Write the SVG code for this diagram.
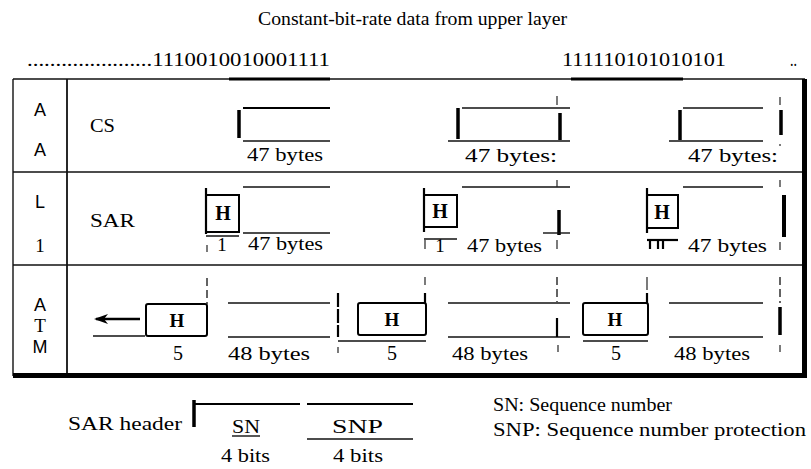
<svg xmlns="http://www.w3.org/2000/svg" width="811" height="469" viewBox="0 0 811 469">
<style>
.t{font-family:"Liberation Serif","Times New Roman",serif;font-size:18px;fill:#000}
.s{font-family:"Liberation Sans",Arial,sans-serif;font-size:18px;fill:#000}
.hb{font-family:"Liberation Serif","Times New Roman",serif;font-size:19px;font-weight:bold;fill:#000}
.ln{stroke:#111;stroke-width:1.4;fill:none}
.md{stroke:#000;stroke-width:2.2;fill:none}
.tk{stroke:#000;stroke-width:3.5;fill:none}
.tc{stroke:#222;stroke-width:1.2;fill:none}
.ds{stroke:#222;stroke-width:1.4;fill:none;stroke-dasharray:8 4}
.box{fill:#fff;stroke:#000;stroke-width:2}
</style>
<defs>
<marker id="ah" markerWidth="14" markerHeight="10" refX="12" refY="5" orient="auto" markerUnits="userSpaceOnUse">
<path d="M0,0 L14,5 L0,10 L4,5 Z" fill="#000"/>
</marker>
</defs>
<rect width="811" height="469" fill="#fff"/>

<g id="header-text">
<text class="t" x="258" y="25" textLength="309" lengthAdjust="spacingAndGlyphs">Constant-bit-rate data from upper layer</text>
<text class="t" x="27" y="66" textLength="303" lengthAdjust="spacingAndGlyphs">......................1110010010001111</text>
<text class="t" x="562" y="66" textLength="164" lengthAdjust="spacingAndGlyphs">111110101010101</text>
<text class="t" x="790" y="66" textLength="7" lengthAdjust="spacingAndGlyphs">..</text>
</g>

<g id="frame">
<line class="ln" x1="13" y1="79" x2="805" y2="79"/>
<line x1="229" y1="79" x2="330" y2="79" stroke="#000" stroke-width="3"/>
<line x1="571" y1="79" x2="683" y2="79" stroke="#000" stroke-width="3"/>
<line class="ln" x1="13" y1="79" x2="13" y2="376"/>
<line x1="67" y1="79" x2="67" y2="376" stroke="#111" stroke-width="1.8"/>
<line class="ln" x1="13" y1="172" x2="803" y2="172"/>
<line class="ln" x1="13" y1="265" x2="803" y2="265"/>
<rect x="802" y="79" width="5" height="299" fill="#000"/>
<rect x="13" y="373" width="794" height="5" fill="#000"/>
</g>

<g id="layer-labels">
<text class="s" x="40" y="116" text-anchor="middle">A</text>
<text class="s" x="40" y="156" text-anchor="middle">A</text>
<text class="s" x="40" y="208" text-anchor="middle">L</text>
<text class="t" x="40" y="252" text-anchor="middle" style="font-size:19px">1</text>
<text class="s" x="40" y="311" text-anchor="middle">A</text>
<text class="t" x="40" y="332" text-anchor="middle" style="font-size:19px">T</text>
<text class="s" x="40" y="353" text-anchor="middle">M</text>
</g>

<g id="cs-row">
<text class="t" x="90" y="132" textLength="25" lengthAdjust="spacingAndGlyphs">CS</text>
<g id="cs-1">
<line class="tk" x1="239" y1="110" x2="239" y2="138"/>
<line class="md" x1="243" y1="108" x2="330" y2="108"/>
<line class="ln" x1="243" y1="141" x2="330" y2="141"/>
<text class="t" x="247" y="161" textLength="76" lengthAdjust="spacingAndGlyphs">47 bytes</text>
</g>
<g id="cs-2">
<line class="tc" x1="557" y1="96" x2="557" y2="105"/>
<line class="ln" x1="462" y1="108" x2="570" y2="108"/>
<line class="tk" x1="458" y1="108" x2="458" y2="139"/>
<line class="ln" x1="448" y1="141" x2="570" y2="141"/>
<line class="tk" x1="560" y1="113" x2="560" y2="140"/>
<text class="t" x="465" y="162" textLength="92" lengthAdjust="spacingAndGlyphs">47 bytes:</text>
</g>
<g id="cs-3">
<line class="ln" x1="683" y1="108" x2="763" y2="108"/>
<line class="tk" x1="680" y1="110" x2="680" y2="140"/>
<line class="ln" x1="669" y1="141" x2="763" y2="141"/>
<line class="tc" x1="780" y1="97" x2="780" y2="105"/>
<line class="tk" x1="781" y1="110" x2="781" y2="135"/>
<line class="tc" x1="780" y1="144" x2="780" y2="146"/>
<text class="t" x="688" y="162" textLength="90" lengthAdjust="spacingAndGlyphs">47 bytes:</text>
</g>
</g>

<g id="sar-row">
<text class="t" x="90" y="227" textLength="45" lengthAdjust="spacingAndGlyphs">SAR</text>
<g id="sar-1">
<rect class="box" x="206" y="195" width="33" height="37"/>
<line class="md" x1="206" y1="188" x2="206" y2="234"/>
<text class="hb" x="223" y="220" text-anchor="middle" style="font-size:20px">H</text>
<line class="ln" x1="243" y1="187" x2="330" y2="187"/>
<line class="ln" x1="243" y1="233" x2="330" y2="233"/>
<line class="ln" x1="206" y1="236" x2="239" y2="236"/>
<line class="tc" x1="207" y1="245" x2="207" y2="252"/>
<text class="t" x="222" y="251" text-anchor="middle" style="font-size:19px">1</text>
<text class="t" x="248" y="250" textLength="75" lengthAdjust="spacingAndGlyphs">47 bytes</text>
</g>
<g id="sar-2">
<rect class="box" x="424" y="195" width="33" height="32"/>
<line class="md" x1="424" y1="188" x2="424" y2="232"/>
<text class="hb" x="440" y="218" text-anchor="middle" style="font-size:20px">H</text>
<line class="ln" x1="462" y1="187" x2="570" y2="187"/>
<line class="tc" x1="557" y1="180" x2="557" y2="187"/>
<line class="tk" x1="559" y1="210" x2="559" y2="235"/>
<line class="ln" x1="543" y1="233" x2="570" y2="233"/>
<line class="tc" x1="557" y1="240" x2="557" y2="249"/>
<line class="ln" x1="424" y1="239" x2="457" y2="239"/>
<line class="tc" x1="425" y1="240" x2="425" y2="249"/>
<text class="t" x="440" y="252" text-anchor="middle" style="font-size:19px">1</text>
<text class="t" x="467" y="252" textLength="75" lengthAdjust="spacingAndGlyphs">47 bytes</text>
</g>
<g id="sar-3">
<rect class="box" x="647" y="195" width="31" height="33"/>
<line class="md" x1="647" y1="188" x2="647" y2="233"/>
<text class="hb" x="662" y="219" text-anchor="middle" style="font-size:20px">H</text>
<line class="ln" x1="683" y1="187" x2="763" y2="187"/>
<line class="tc" x1="780" y1="180" x2="780" y2="187"/>
<rect x="782" y="195" width="4" height="42" fill="#000"/>
<line class="md" x1="647" y1="240" x2="678" y2="240"/>
<line class="md" x1="650" y1="240" x2="650" y2="249"/>
<line class="md" x1="658" y1="240" x2="658" y2="249"/>
<line class="md" x1="663" y1="240" x2="663" y2="249"/>
<text class="t" x="688" y="252" textLength="79" lengthAdjust="spacingAndGlyphs">47 bytes</text>
<line class="tc" x1="780" y1="242" x2="780" y2="250"/>
</g>
</g>

<g id="atm-row">
<g id="atm-1">
<line class="ln" x1="93" y1="336" x2="145" y2="336"/>
<rect class="box" x="146" y="304" width="61" height="32" rx="2"/>
<text class="hb" x="177" y="327" text-anchor="middle">H</text>
<line class="ds" x1="207" y1="278" x2="207" y2="304"/>
<text class="t" x="178" y="360" text-anchor="middle" style="font-size:20px">5</text>
<line class="ln" x1="228" y1="303" x2="330" y2="303"/>
<line class="ln" x1="228" y1="337" x2="330" y2="337"/>
<text class="t" x="228" y="360" textLength="82" lengthAdjust="spacingAndGlyphs">48 bytes</text>
<line class="md" x1="338" y1="293" x2="338" y2="337" stroke-dasharray="14 2"/>
<line class="tc" x1="338" y1="347" x2="338" y2="353"/>
</g>
<g id="atm-2">
<line class="ln" x1="338" y1="341" x2="426" y2="341"/>
<rect class="box" x="358" y="303" width="68" height="32" rx="2"/>
<text class="hb" x="392" y="326" text-anchor="middle">H</text>
<line class="tc" x1="425" y1="277" x2="425" y2="285"/>
<line class="md" x1="425" y1="293" x2="425" y2="304"/>
<text class="t" x="392" y="360" text-anchor="middle" style="font-size:20px">5</text>
<line class="ln" x1="448" y1="303" x2="570" y2="303"/>
<line class="ln" x1="448" y1="337" x2="570" y2="337"/>
<line class="ds" x1="557" y1="277" x2="557" y2="302"/>
<line class="md" x1="557" y1="318" x2="557" y2="337"/>
<line class="tc" x1="558" y1="345" x2="558" y2="352"/>
<text class="t" x="452" y="360" textLength="76" lengthAdjust="spacingAndGlyphs">48 bytes</text>
</g>
<g id="atm-3">
<line class="ln" x1="583" y1="341" x2="648" y2="341"/>
<rect class="box" x="583" y="303" width="65" height="32" rx="2"/>
<text class="hb" x="615" y="326" text-anchor="middle">H</text>
<line class="tc" x1="647" y1="277" x2="647" y2="290"/>
<line class="md" x1="647" y1="293" x2="647" y2="304"/>
<text class="t" x="616" y="360" text-anchor="middle" style="font-size:20px">5</text>
<line class="ln" x1="669" y1="303" x2="763" y2="303"/>
<line class="ln" x1="669" y1="337" x2="763" y2="337"/>
<line class="ds" x1="780" y1="277" x2="780" y2="303"/>
<line class="tk" x1="780" y1="307" x2="780" y2="335"/>
<line class="tc" x1="780" y1="345" x2="780" y2="352"/>
<text class="t" x="674" y="360" textLength="76" lengthAdjust="spacingAndGlyphs">48 bytes</text>
</g>
</g>

<g id="connectors">
<line x1="140" y1="319" x2="96" y2="319" stroke="#000" stroke-width="2.5" marker-end="url(#ah)"/>
</g>

<g id="legend">
<text class="t" x="68" y="430" textLength="114" lengthAdjust="spacingAndGlyphs">SAR header</text>
<line class="tk" x1="194" y1="400" x2="194" y2="427"/>
<line class="md" x1="194" y1="404" x2="300" y2="404"/>
<text class="t" x="232" y="433" textLength="28" lengthAdjust="spacingAndGlyphs">SN</text>
<line class="ln" x1="232" y1="436" x2="260" y2="436"/>
<text class="t" x="221" y="462" textLength="49" lengthAdjust="spacingAndGlyphs">4 bits</text>
<line class="md" x1="307" y1="404" x2="413" y2="404"/>
<text class="t" x="332" y="433" textLength="51" lengthAdjust="spacingAndGlyphs">SNP</text>
<line class="ln" x1="307" y1="439" x2="413" y2="439"/>
<text class="t" x="333" y="462" textLength="50" lengthAdjust="spacingAndGlyphs">4 bits</text>
<text class="t" x="493" y="411" textLength="179" lengthAdjust="spacingAndGlyphs">SN: Sequence number</text>
<text class="t" x="493" y="436" textLength="313" lengthAdjust="spacingAndGlyphs">SNP: Sequence number protection</text>
</g>
</svg>
